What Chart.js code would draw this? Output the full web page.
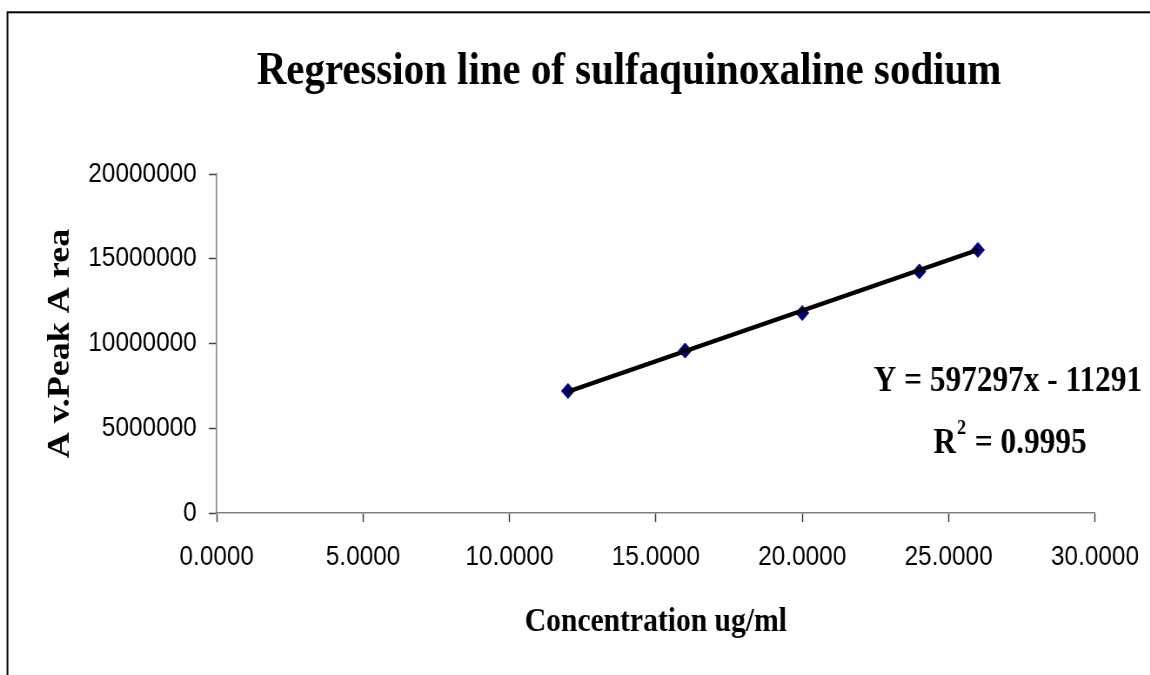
<!DOCTYPE html>
<html><head><meta charset="utf-8">
<script src="https://cdn.jsdelivr.net/npm/chart.js@4.4.0/dist/chart.umd.min.js"></script>
<style>
html,body{margin:0;padding:0;background:#fff;overflow:hidden;width:1150px;height:675px;}
#wrap{position:absolute;left:0;top:0;width:1322px;height:675px;transform:scaleX(0.87);transform-origin:0 0;}
canvas{background:#fff;}
</style></head><body>
<div id="wrap"><canvas id="c"></canvas></div>
<script>
// ---- data ----
const concentrations = [12, 16, 20, 24, 26];
const peakAreas = [7200000, 9580000, 11800000, 14250000, 15520000];
const trendX = [12, 26];
const trendY = [7160000, 15520000];
const xRange = [0, 30];
const xStep = 5;
const yRange = [0, 20000000];
const yStep = 5000000;
const chartTitle = 'Regression line of sulfaquinoxaline sodium';
const xTitle = 'Concentration ug/ml';
const yTitle = 'A v.Peak A rea';
const equationText = 'Y = 597297x - 11291';
const r2Text = ' = 0.9995';

const SERIF = '"Liberation Serif", "Times New Roman", serif';
const SANS = '"Liberation Sans", Arial, sans-serif';

const framePlugin = {
  id: 'frame',
  beforeDraw(chart) {
    const ctx = chart.ctx;
    ctx.save();
    ctx.fillStyle = '#fff';
    ctx.fillRect(0, 0, chart.width, chart.height);
    ctx.strokeStyle = '#000';
    ctx.lineWidth = 2;
    ctx.strokeRect(8.6, 12.3, chart.width + 100, chart.height + 100);
    ctx.restore();
  }
};

const equationPlugin = {
  id: 'equation',
  afterDraw(chart) {
    const ctx = chart.ctx;
    ctx.save();
    ctx.fillStyle = '#000';
    ctx.textBaseline = 'alphabetic';
    ctx.font = 'bold 36px ' + SERIF;
    ctx.textAlign = 'center';
    ctx.fillText(equationText, 1158.6, 391);
    // R^2 line
    ctx.textAlign = 'left';
    const bigFont = 'bold 36px ' + SERIF;
    const supFont = 'bold 21px ' + SERIF;
    ctx.font = bigFont;
    const wR = ctx.measureText('R').width;
    const wRest = ctx.measureText(r2Text).width;
    ctx.font = supFont;
    const wS = ctx.measureText('2').width + 2;
    const total = wR + wS + wRest;
    let x = 1161 - total / 2;
    ctx.font = bigFont;
    ctx.fillText('R', x, 453);
    x += wR + 1;
    ctx.font = supFont;
    ctx.fillText('2', x, 434);
    x += wS - 1;
    ctx.font = bigFont;
    ctx.fillText(r2Text, x, 453);
    ctx.restore();
  }
};

const scatterPoints = concentrations.map((c, i) => ({x: c, y: peakAreas[i]}));
const trendPoints = trendX.map((c, i) => ({x: c, y: trendY[i]}));

const axisGrey = '#808080';

new Chart(document.getElementById('c'), {
  type: 'scatter',
  data: {
    datasets: [
      {
        label: 'Linear',
        data: trendPoints,
        showLine: true,
        borderColor: '#000',
        borderWidth: 4.5,
        pointRadius: 0,
        fill: false
      },
      {
        label: 'Av. Peak Area',
        data: scatterPoints,
        showLine: false,
        pointStyle: 'rectRot',
        pointRadius: 7.5,
        backgroundColor: '#000080',
        borderColor: '#000080',
        borderWidth: 1
      }
    ]
  },
  options: {
    responsive: true,
    maintainAspectRatio: false,
    animation: false,
    layout: { padding: { left: 89, right: -35, top: 0, bottom: 0 } },
    plugins: {
      legend: { display: false },
      tooltip: { enabled: false },
      title: {
        display: true,
        text: chartTitle,
        color: '#000',
        font: { family: SERIF, size: 47, weight: 'bold' },
        padding: { top: 44, bottom: 73.6 }
      }
    },
    scales: {
      x: {
        type: 'linear',
        min: xRange[0], max: xRange[1],
        afterFit(scale) { scale.height = 162; scale.paddingRight = 63.4; },
        border: { display: true, color: axisGrey, width: 1.5 },
        grid: { display: true, drawOnChartArea: false, drawTicks: true, tickLength: 9, tickColor: '#404040', tickWidth: 1.5 },
        ticks: {
          stepSize: xStep,
          color: '#000',
          font: { family: SANS, size: 28 },
          padding: 18,
          maxRotation: 0,
          callback: v => Number(v).toFixed(4)
        },
        title: {
          display: true,
          text: xTitle,
          color: '#000',
          font: { family: SERIF, size: 34, weight: 'bold' },
          padding: { top: 0, bottom: 32.8 }
        }
      },
      y: {
        type: 'linear',
        min: yRange[0], max: yRange[1],
        afterFit(scale) { scale.width = 160.1; },
        border: { display: true, color: axisGrey, width: 1.5 },
        grid: { display: true, drawOnChartArea: false, drawTicks: true, tickLength: 9, tickColor: '#404040', tickWidth: 1.5 },
        ticks: {
          stepSize: yStep,
          color: '#000',
          font: { family: SANS, size: 28 },
          padding: 14,
          callback: v => String(v)
        },
        title: {
          display: true,
          text: yTitle,
          color: '#000',
          font: { family: SERIF, size: 36, weight: 'bold' },
          padding: { top: -40.5, bottom: 0 }
        }
      }
    }
  },
  plugins: [framePlugin, equationPlugin]
});
</script>
</body></html>
